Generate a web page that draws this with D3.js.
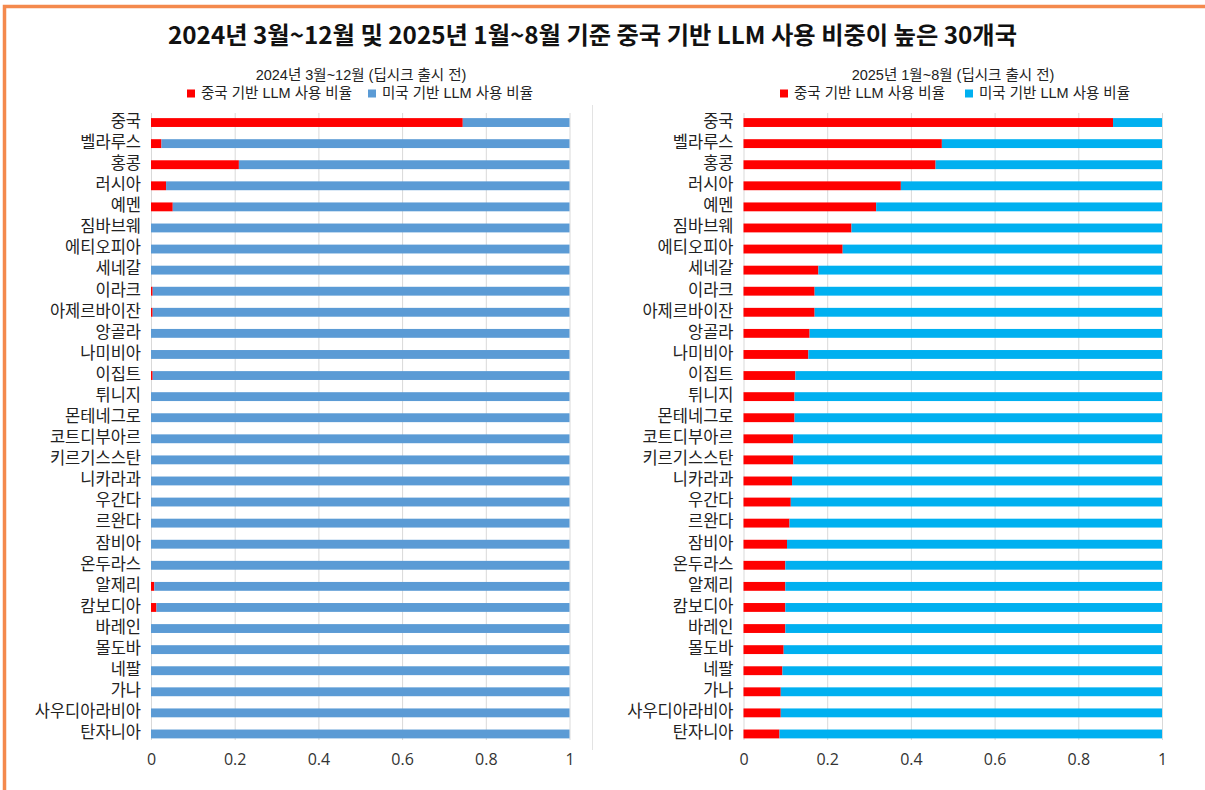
<!DOCTYPE html>
<html>
<head>
<meta charset="utf-8">
<script src="https://cdn.jsdelivr.net/npm/d3@7"></script>
<style>
  body { margin: 0; background: #fff; }
  svg { display: block; font-family: "Liberation Sans", "Noto Sans CJK KR", sans-serif; }
</style>
</head>
<body>
<svg id="chart" width="1205" height="790"></svg>
<script>
var countries = ["중국", "벨라루스", "홍콩", "러시아", "예멘", "짐바브웨", "에티오피아", "세네갈", "이라크",
    "아제르바이잔", "앙골라", "나미비아", "이집트", "튀니지", "몬테네그로", "코트디부아르", "키르기스스탄",
    "니카라과", "우간다", "르완다", "잠비아", "온두라스", "알제리", "캄보디아", "바레인", "몰도바", "네팔",
    "가나", "사우디아라비아", "탄자니아"];

// share of Chinese-based LLM usage (rest = US-based)
var cnShare2024 = [0.745, 0.025, 0.21, 0.036, 0.052, 0, 0, 0, 0.004, 0.004, 0, 0, 0.004, 0, 0,
    0, 0, 0, 0, 0, 0, 0, 0.008, 0.013, 0, 0, 0, 0, 0, 0];
var cnShare2025 = [0.883, 0.474, 0.459, 0.376, 0.317, 0.258, 0.237, 0.179, 0.170, 0.170, 0.158, 0.155,
    0.124, 0.122, 0.122, 0.119, 0.119, 0.116, 0.113, 0.110, 0.104, 0.100, 0.100, 0.100, 0.100, 0.096,
    0.093, 0.089, 0.089, 0.086];

var xTicks = [0, 0.2, 0.4, 0.6, 0.8, 1];
var legendNames = ["중국 기반 LLM 사용 비율", "미국 기반 LLM 사용 비율"];

var svg = d3.select("#chart");

// orange frame
svg.append("rect")
    .attr("x", 4.5).attr("y", 6.5)
    .attr("width", 1220).attr("height", 800)
    .attr("fill", "none")
    .attr("stroke", "#f4894d")
    .attr("stroke-width", 3.5);

svg.append("text")
    .attr("x", 592.5).attr("y", 37)
    .attr("text-anchor", "middle")
    .attr("dominant-baseline", "middle")
    .attr("font-family", "\"Noto Sans CJK KR\", sans-serif")
    .attr("font-size", 24)
    .attr("font-weight", "bold")
    .attr("fill", "#111")
    .attr("textLength", 849)
    .attr("lengthAdjust", "spacingAndGlyphs")
    .text("2024년 3월~12월 및 2025년 1월~8월 기준 중국 기반 LLM 사용 비중이 높은 30개국");

// divider between the two panels
svg.append("line")
    .attr("x1", 592.5).attr("x2", 592.5)
    .attr("y1", 105).attr("y2", 750)
    .attr("stroke", "#e3e3e3");

function drawPanel(opts) {
    var x = d3.scaleLinear().domain([0, 1]).range([opts.x0, opts.x1]);
    var y = d3.scaleBand().domain(countries).range([112, 744.5])
        .paddingInner(0.58).paddingOuter(0.29);
    var g = svg.append("g");

    g.append("text")
        .attr("x", opts.titleX).attr("y", 76.5)
        .attr("text-anchor", "middle")
        .attr("dominant-baseline", "middle")
        .attr("font-size", 14.5)
        .attr("fill", "#222")
        .text(opts.subtitle);

    // legend
    [opts.cnColor, opts.usColor].forEach(function (c, i) {
        var item = g.append("g").attr("transform", "translate(" + opts.legendX[i] + ",0)");
        item.append("rect")
            .attr("x", 0).attr("y", 89.5)
            .attr("width", 8).attr("height", 8)
            .attr("fill", c);
        item.append("text")
            .attr("x", 14).attr("y", 94)
            .attr("dominant-baseline", "middle")
            .attr("font-size", 14.5)
            .attr("fill", "#222")
            .text(legendNames[i]);
    });

    // grid
    g.append("g").selectAll("line")
        .data(xTicks)
        .enter().append("line")
        .attr("x1", function (d) { return x(d) + 0.5; })
        .attr("x2", function (d) { return x(d) + 0.5; })
        .attr("y1", 113).attr("y2", 740)
        .attr("stroke", "#d9d9d9");

    // bars: china part, then us part
    var rows = g.append("g").selectAll("g")
        .data(countries)
        .enter().append("g");
    rows.append("rect")
        .attr("x", x(0))
        .attr("y", function (d) { return y(d); })
        .attr("width", function (d, i) { return x(opts.values[i]) - x(0); })
        .attr("height", y.bandwidth())
        .attr("fill", opts.cnColor);
    rows.append("rect")
        .attr("x", function (d, i) { return x(opts.values[i]); })
        .attr("y", function (d) { return y(d); })
        .attr("width", function (d, i) { return x(1) - x(opts.values[i]); })
        .attr("height", y.bandwidth())
        .attr("fill", opts.usColor);

    // country labels
    g.append("g").selectAll("text")
        .data(countries)
        .enter().append("text")
        .attr("x", opts.x0 - 10)
        .attr("y", function (d) { return y(d) + y.bandwidth() / 2; })
        .attr("text-anchor", "end")
        .attr("dominant-baseline", "middle")
        .attr("font-size", 16.5)
        .attr("fill", "#222")
        .text(function (d) { return d; });

    // x axis labels
    var axis = g.append("g")
        .attr("transform", "translate(0,753)")
        .call(d3.axisBottom(x).tickValues(xTicks).tickSize(0).tickPadding(0)
            .tickFormat(function (d) { return String(d); }));
    axis.select(".domain").remove();
    axis.selectAll("text")
        .attr("font-family", "\"Open Sans\", \"Liberation Sans\", sans-serif")
        .attr("font-size", 16)
        .attr("fill", "#333")
        .attr("dy", "0.75em");
}

drawPanel({
    x0: 151, x1: 569.5,
    values: cnShare2024,
    cnColor: "#ff0000", usColor: "#5b9bd5",
    subtitle: "2024년 3월~12월 (딥시크 출시 전)",
    titleX: 361,
    legendX: [187, 368]
});

drawPanel({
    x0: 743.5, x1: 1162,
    values: cnShare2025,
    cnColor: "#ff0000", usColor: "#00b0f0",
    subtitle: "2025년 1월~8월 (딥시크 출시 전)",
    titleX: 953,
    legendX: [780, 965]
});
</script>
</body>
</html>
